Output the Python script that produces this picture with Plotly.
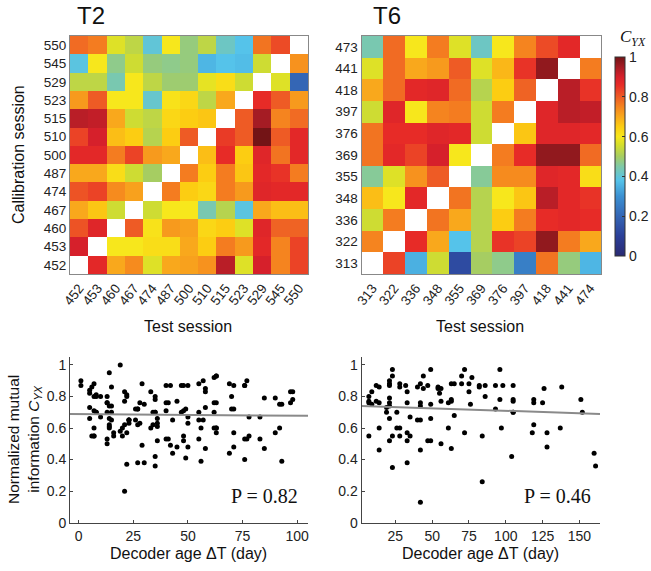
import numpy as np
import plotly.graph_objects as go

W, H = 651, 571
nan = float("nan")

# ---------------- data ----------------
t2_test = [452, 453, 460, 467, 474, 487, 500, 510, 515, 523, 529, 545, 550]
t2_calib = [550, 545, 529, 523, 515, 510, 500, 487, 474, 467, 460, 453, 452]  # top -> bottom
t2_c = [
    [0.78, 0.76, 0.57, 0.53, 0.40, 0.60, 0.48, 0.53, 0.42, 0.38, 0.77, 0.82, nan],
    [0.39, 0.60, 0.47, 0.55, 0.48, 0.47, 0.48, 0.36, 0.38, 0.37, 0.55, nan, 0.73],
    [0.53, 0.53, 0.44, 0.60, 0.53, 0.49, 0.49, 0.58, 0.62, 0.55, nan, 0.57, 0.20],
    [0.72, 0.80, 0.60, 0.60, 0.41, 0.61, 0.63, 0.53, 0.70, nan, 0.86, 0.80, 0.72],
    [0.93, 0.92, 0.70, 0.55, 0.53, 0.63, 0.65, 0.66, nan, 0.80, 0.95, 0.75, 0.78],
    [0.83, 0.90, 0.67, 0.65, 0.52, 0.65, 0.80, nan, 0.84, 0.80, 1.00, 0.80, 0.87],
    [0.87, 0.87, 0.76, 0.83, 0.72, 0.70, nan, 0.67, 0.86, 0.65, 0.88, 0.77, 0.87],
    [0.70, 0.70, 0.62, 0.55, 0.50, nan, 0.76, 0.65, 0.76, 0.66, 0.87, 0.85, 0.76],
    [0.81, 0.83, 0.74, 0.71, nan, 0.76, 0.65, 0.63, 0.76, 0.72, 0.88, 0.87, 0.87],
    [0.70, 0.66, 0.55, nan, 0.55, 0.60, 0.60, 0.44, 0.52, 0.39, 0.70, 0.67, 0.67],
    [0.81, 0.88, nan, 0.80, 0.61, 0.72, 0.71, 0.63, 0.65, 0.57, 0.88, 0.79, 0.79],
    [0.90, nan, 0.60, 0.60, 0.62, 0.62, 0.70, 0.65, 0.76, 0.72, 0.87, 0.75, 0.83],
    [nan, 0.87, 0.70, 0.74, 0.57, 0.70, 0.71, 0.73, 0.93, 0.57, 0.90, 0.75, 0.83],
]

t6_test = [313, 322, 336, 348, 355, 369, 376, 397, 418, 441, 474]
t6_calib = [473, 441, 418, 397, 376, 369, 355, 348, 336, 322, 313]  # top -> bottom
t6_c = [
    [0.44, 0.78, 0.60, 0.76, 0.57, 0.42, 0.60, 0.75, 0.82, 0.87, nan],
    [0.57, 0.78, 0.70, 0.72, 0.80, 0.57, 0.68, 0.85, 0.97, nan, 0.76],
    [0.70, 0.78, 0.87, 0.88, 0.78, 0.52, 0.65, 0.79, nan, 0.93, 0.85],
    [0.55, 0.88, 0.60, 0.75, 0.76, 0.55, 0.76, nan, 0.88, 0.93, 0.92],
    [0.77, 0.86, 0.86, 0.88, 0.87, 0.55, nan, 0.66, 0.88, 0.88, 0.87],
    [0.77, 0.87, 0.83, 0.90, 0.60, nan, 0.76, 0.86, 0.97, 0.97, 0.78],
    [0.46, 0.57, 0.73, 0.80, nan, 0.46, 0.74, 0.74, 0.88, 0.87, 0.62],
    [0.67, 0.60, 0.87, nan, 0.77, 0.52, 0.60, 0.66, 0.93, 0.87, 0.85],
    [0.55, 0.76, nan, 0.77, 0.70, 0.52, 0.65, 0.76, 0.86, 0.87, 0.86],
    [0.75, nan, 0.86, 0.70, 0.38, 0.52, 0.85, 0.83, 0.97, 0.76, 0.70],
    [nan, 0.83, 0.35, 0.55, 0.13, 0.50, 0.47, 0.26, 0.77, 0.48, 0.36],
]

# regression lines (end points)
t2_fit_x = [-4, 105]
t2_fit_y = [0.689, 0.677]
t6_fit_x = [2, 164]
t6_fit_y = [0.740, 0.689]

colorbar_ticks = [0, 0.2, 0.4, 0.6, 0.8, 1]
colorbar_ticktext = ["0", "0.2", "0.4", "0.6", "0.8", "1"]
scatter_yticks = [0, 0.2, 0.4, 0.6, 0.8, 1]
scatter_yticktext = ["0", "0.2", "0.4", "0.6", "0.8", "1"]
t2_xticks = [0, 25, 50, 75, 100]
t6_xticks = [25, 50, 75, 100, 125, 150]


def age_points(test, calib, c):
    xs, ys = [], []
    for i, cs in enumerate(calib):
        for j, ts in enumerate(test):
            v = c[i][j]
            if v == v:
                xs.append(abs(ts - cs))
                ys.append(v)
    return xs, ys


t2_age, t2_cyx = age_points(t2_test, t2_calib, t2_c)
t6_age, t6_cyx = age_points(t6_test, t6_calib, t6_c)

# ---------------- style ----------------
cscale = [
    [0.00, "#2a2a72"], [0.10, "#2b3f98"], [0.20, "#3466b5"], [0.30, "#3b90d2"],
    [0.38, "#55c3ea"], [0.45, "#7fc9a6"], [0.50, "#a6cd62"], [0.56, "#d6df2a"],
    [0.60, "#f7e71c"], [0.65, "#fccd12"], [0.70, "#f9a81c"], [0.75, "#f5841f"],
    [0.80, "#ee5b25"], [0.86, "#e72b27"], [0.90, "#d6202b"], [0.95, "#a51c24"],
    [1.00, "#731416"],
]
SANS = "Liberation Sans, Arial, sans-serif"
SERIF = "Liberation Serif, Times New Roman, serif"


def px(x):
    return x / W


def py(y):
    return 1 - y / H


CB_TOP, CB_BOT = 57, 256

fig = go.Figure()

fig.add_trace(go.Heatmap(
    z=t2_c, x=[str(v) for v in t2_test], y=[str(v) for v in t2_calib],
    zmin=0, zmax=1, colorscale=cscale, showscale=False,
    xaxis="x", yaxis="y", hoverongaps=False,
))
fig.add_trace(go.Heatmap(
    z=t6_c, x=[str(v) for v in t6_test], y=[str(v) for v in t6_calib],
    zmin=0, zmax=1, colorscale=cscale, showscale=True,
    xaxis="x2", yaxis="y2", hoverongaps=False,
    colorbar=dict(
        x=px(615), xanchor="left", y=py(CB_BOT), yanchor="bottom",
        len=(CB_BOT - CB_TOP) / H, lenmode="fraction", thickness=10,
        thicknessmode="pixels", outlinewidth=1, outlinecolor="#333",
        tickvals=colorbar_ticks, ticks="inside", ticklen=3, tickcolor="#333",
        showticklabels=False, xpad=0, ypad=0,
    ),
))

fig.add_trace(go.Scatter(
    x=t2_age, y=t2_cyx, mode="markers", xaxis="x3", yaxis="y3",
    marker=dict(color="black", size=5), showlegend=False, cliponaxis=False,
))
fig.add_trace(go.Scatter(
    x=t2_fit_x, y=t2_fit_y, mode="lines", xaxis="x3", yaxis="y3",
    line=dict(color="#8a8a8a", width=2), showlegend=False,
))
fig.add_trace(go.Scatter(
    x=t6_age, y=t6_cyx, mode="markers", xaxis="x4", yaxis="y4",
    marker=dict(color="black", size=5), showlegend=False, cliponaxis=False,
))
fig.add_trace(go.Scatter(
    x=t6_fit_x, y=t6_fit_y, mode="lines", xaxis="x4", yaxis="y4",
    line=dict(color="#8a8a8a", width=2), showlegend=False,
))

hm_tickfont = dict(family=SANS, size=13.5, color="#222")
hm_ax = dict(type="category", showline=True, mirror=True, linecolor="#888",
             linewidth=1, ticks="", showgrid=False, zeroline=False,
             tickfont=hm_tickfont, automargin=False)
sc_ax = dict(showline=True, linecolor="#444", linewidth=1, ticks="inside",
             ticklen=3, tickcolor="#444", showgrid=False, zeroline=False,
             tickfont=dict(family=SANS, size=14, color="#222"), automargin=False)

fig.update_layout(
    width=W, height=H, margin=dict(l=0, r=0, t=0, b=0, autoexpand=False),
    paper_bgcolor="white", plot_bgcolor="white", showlegend=False,
    xaxis=dict(hm_ax, domain=[px(70), px(308)], anchor="y", tickangle=-52),
    yaxis=dict(hm_ax, domain=[py(274), py(36)], anchor="x", autorange="reversed"),
    xaxis2=dict(hm_ax, domain=[px(361.5), px(601)], anchor="y2", tickangle=-52),
    yaxis2=dict(hm_ax, domain=[py(274), py(36)], anchor="x2", autorange="reversed"),
    xaxis3=dict(sc_ax, domain=[px(70), px(308)], anchor="y3", range=[-4, 105],
                tickvals=t2_xticks),
    yaxis3=dict(sc_ax, domain=[py(522.7), py(357)], anchor="x3", range=[0, 1.05],
                tickvals=scatter_yticks, ticktext=scatter_yticktext),
    xaxis4=dict(sc_ax, domain=[px(361.5), px(600)], anchor="y4", range=[2, 164],
                tickvals=t6_xticks),
    yaxis4=dict(sc_ax, domain=[py(522.7), py(357)], anchor="x4", range=[0, 1.05],
                tickvals=scatter_yticks, ticktext=scatter_yticktext),
)

ann = []


def add_text(text, x, y, size, family=SANS, angle=0, xanchor="center"):
    ann.append(dict(text=text, x=px(x), y=py(y), xref="paper", yref="paper",
                    showarrow=False, textangle=angle, xanchor=xanchor,
                    yanchor="middle", font=dict(family=family, size=size, color="#111")))


add_text("T2", 91, 15, 24)
add_text("T6", 387, 15, 24)
add_text("Callibration session", 18, 155, 16, angle=-90)
add_text("Test session", 188, 326, 16)
add_text("Test session", 480, 326, 16)
add_text("Normalized mutual<br>information <i>C</i><sub><i>YX</i></sub>", 25, 440, 15.5, angle=-90)
add_text("Decoder age ΔT (day)", 188, 553, 16)
add_text("Decoder age ΔT (day)", 480, 553, 16)
add_text("P = 0.82", 300, 496, 20, family=SERIF, xanchor="right")
add_text("P = 0.46", 593, 496, 20, family=SERIF, xanchor="right")
add_text("<i>C</i><sub><i>YX</i></sub>", 648, 38, 17, family=SERIF, xanchor="right")

# colorbar tick labels
for v, t in zip(colorbar_ticks, colorbar_ticktext):
    ann.append(dict(text=t, x=px(627), y=py(CB_BOT - v * (CB_BOT - CB_TOP)),
                    xref="paper", yref="paper", showarrow=False, xanchor="left",
                    yanchor="middle", font=dict(family=SANS, size=14, color="#222")))

fig.update_layout(annotations=ann)

fig.write_html(
    "out.html",
    config={"displayModeBar": False},
    post_script="document.body.style.margin='0';document.body.style.padding='0';"
                "document.documentElement.style.margin='0';",
)
